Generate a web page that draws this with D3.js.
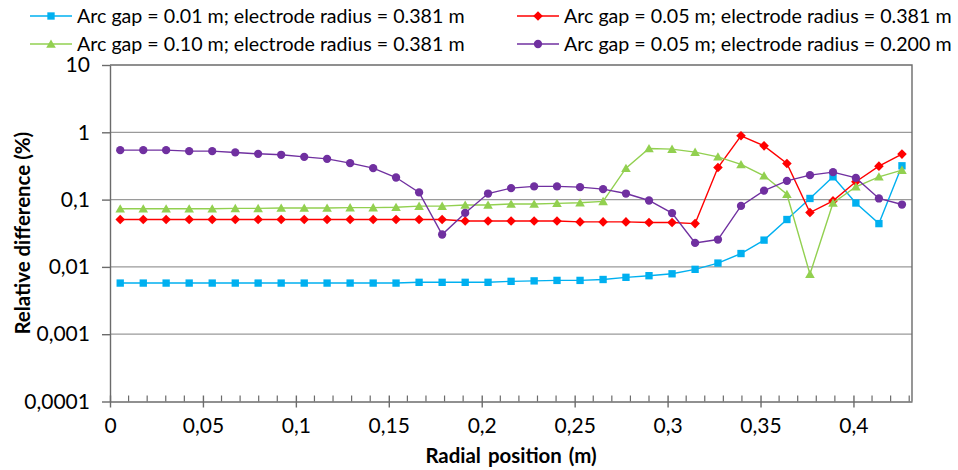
<!DOCTYPE html>
<html>
<head>
<meta charset="utf-8">
<script src="https://cdn.jsdelivr.net/npm/d3@7"></script>
<style>
  body { margin: 0; background: #ffffff; }
  svg { display: block; }
  text { font-family: Lato, "Liberation Sans", sans-serif; fill: #000; }
</style>
</head>
<body>
<svg id="chart" width="958" height="470"></svg>
<script>
// Radial positions of the sampled cells (m)
const radialPosition = [
  0.0055, 0.0179, 0.0302, 0.0426, 0.0550, 0.0674, 0.0797, 0.0921, 0.1045, 0.1168,
  0.1292, 0.1416, 0.1539, 0.1663, 0.1787, 0.1911, 0.2034, 0.2158, 0.2282, 0.2405,
  0.2529, 0.2653, 0.2776, 0.2900, 0.3024, 0.3148, 0.3271, 0.3395, 0.3519, 0.3642,
  0.3766, 0.3890, 0.4013, 0.4137, 0.4261
];

// Relative difference (%) for each configuration
const gap001Radius0381 = [
  0.00575, 0.00575, 0.00575, 0.00575, 0.00575, 0.00575, 0.00575, 0.00575, 0.00575, 0.00575,
  0.00575, 0.00575, 0.00575, 0.0059, 0.0059, 0.0059, 0.0059, 0.0061, 0.0062, 0.0063,
  0.0063, 0.0065, 0.0070, 0.0074, 0.0079, 0.0092, 0.0114, 0.0158, 0.0250, 0.0506,
  0.104, 0.218, 0.089, 0.044, 0.318
];
const gap005Radius0381 = [
  0.0505, 0.0505, 0.0505, 0.0505, 0.0505, 0.0505, 0.0505, 0.0505, 0.0505, 0.0505,
  0.0505, 0.0505, 0.0505, 0.0505, 0.0505, 0.0482, 0.0482, 0.0482, 0.0482, 0.0482,
  0.0466, 0.0466, 0.0466, 0.0456, 0.0456, 0.044, 0.300, 0.887, 0.629, 0.344,
  0.0643, 0.0957, 0.184, 0.314, 0.474
];
const gap010Radius0381 = [
  0.073, 0.073, 0.073, 0.073, 0.073, 0.074, 0.074, 0.075, 0.075, 0.075,
  0.076, 0.076, 0.077, 0.080, 0.080, 0.083, 0.083, 0.086, 0.086, 0.088,
  0.090, 0.094, 0.293, 0.575, 0.562, 0.507, 0.432, 0.333, 0.226, 0.120,
  0.0078, 0.089, 0.155, 0.218, 0.274
];
const gap005Radius0200 = [
  0.543, 0.543, 0.543, 0.525, 0.525, 0.502, 0.479, 0.463, 0.432, 0.403,
  0.348, 0.293, 0.213, 0.128, 0.0303, 0.0634, 0.123, 0.148, 0.157, 0.157,
  0.153, 0.143, 0.123, 0.097, 0.063, 0.0227, 0.0255, 0.0805, 0.136, 0.190,
  0.231, 0.256, 0.210, 0.104, 0.0845
];

const seriesNames = [
  "Arc gap = 0.01 m; electrode radius = 0.381 m",
  "Arc gap = 0.05 m; electrode radius = 0.381 m",
  "Arc gap = 0.10 m; electrode radius = 0.381 m",
  "Arc gap = 0.05 m; electrode radius = 0.200 m"
];

const yTickValues = [10, 1, 0.1, 0.01, 0.001, 0.0001];
const yTickLabels = ["10", "1", "0,1", "0,01", "0,001", "0,0001"];
const xTickValues = [0, 0.05, 0.1, 0.15, 0.2, 0.25, 0.3, 0.35, 0.4];
const xTickLabels = ["0", "0,05", "0,1", "0,15", "0,2", "0,25", "0,3", "0,35", "0,4"];
const xAxisTitle = "Radial position (m)";
const yAxisTitle = "Relative difference (%)";

const series = [
  { name: seriesNames[0], values: gap001Radius0381, color: "#00b0f0", marker: "square" },
  { name: seriesNames[1], values: gap005Radius0381, color: "#ff0000", marker: "diamond" },
  { name: seriesNames[2], values: gap010Radius0381, color: "#92d050", marker: "triangle" },
  { name: seriesNames[3], values: gap005Radius0200, color: "#7030a0", marker: "circle" }
];

const svg = d3.select("#chart");
const plot = { left: 110, right: 912, top: 65, bottom: 401.5 };

// Pick a font size so the legend labels span their natural width
const probe = svg.append("text").attr("font-size", 20).text(seriesNames[0]);
const probeLen = probe.node().getComputedTextLength();
probe.remove();
const fs = Math.max(16, Math.min(24, 20 * 388 / probeLen));
const tickFs = fs * 1.07;
const titleFs = fs * 1.04;

const x = d3.scaleLinear().domain([0, 0.4315]).range([plot.left, plot.right]);
const y = d3.scaleLog().domain([0.0001, 10]).range([plot.bottom, plot.top]);

// Horizontal gridlines at each decade
svg.append("g")
  .selectAll("line")
  .data(yTickValues.filter(v => v < 10 && v > 0.0001))
  .join("line")
  .attr("x1", plot.left).attr("x2", plot.right)
  .attr("y1", d => y(d)).attr("y2", d => y(d))
  .attr("stroke", "#9a9a9a").attr("stroke-width", 1.2);

// Plot area border (top and right)
svg.append("path")
  .attr("d", `M${plot.left},${plot.top}H${plot.right}V${plot.bottom}`)
  .attr("fill", "none").attr("stroke", "#6b6b6b").attr("stroke-width", 1.4);

// Y axis
const yAxis = svg.append("g")
  .attr("transform", `translate(${plot.left},0)`)
  .call(d3.axisLeft(y).tickValues(yTickValues)
    .tickFormat(d => yTickLabels[yTickValues.indexOf(d)])
    .tickSize(8).tickSizeOuter(0).tickPadding(12));
yAxis.attr("font-family", null).attr("font-size", null);
yAxis.selectAll("text").attr("font-size", tickFs).attr("fill", "#000");
yAxis.selectAll("line, path").attr("stroke", "#6b6b6b").attr("stroke-width", 1.4);

// X axis with crossing major ticks and inside minor ticks
const xAxis = svg.append("g")
  .attr("transform", `translate(0,${plot.bottom})`)
  .call(d3.axisBottom(x).tickValues(xTickValues)
    .tickFormat((d, i) => xTickLabels[i])
    .tickSize(6).tickSizeOuter(0).tickPadding(11));
xAxis.attr("font-family", null).attr("font-size", null);
xAxis.selectAll("text").attr("font-size", tickFs).attr("fill", "#000");
xAxis.selectAll(".tick line").attr("y1", -6);
xAxis.selectAll("line, path").attr("stroke", "#6b6b6b").attr("stroke-width", 1.4);

const minorTicks = d3.range(1, 44).map(k => k / 100).filter(v => Math.round(v * 100) % 5 !== 0);
xAxis.append("g").selectAll("line")
  .data(minorTicks)
  .join("line")
  .attr("x1", d => x(d)).attr("x2", d => x(d))
  .attr("y1", -6).attr("y2", 0)
  .attr("stroke", "#6b6b6b").attr("stroke-width", 1.2);

// Axis titles
svg.append("text")
  .attr("x", (plot.left + plot.right) / 2).attr("y", 463)
  .attr("text-anchor", "middle").attr("font-weight", "bold").attr("font-size", titleFs)
  .attr("word-spacing", "2px")
  .text(xAxisTitle);
svg.append("text")
  .attr("transform", `translate(30,${(plot.top + plot.bottom) / 2}) rotate(-90)`)
  .attr("text-anchor", "middle").attr("font-weight", "bold").attr("font-size", titleFs)
  .text(yAxisTitle);

// Marker shapes
function markerPath(kind) {
  if (kind === "square") return d3.symbol(d3.symbolSquare, 54)();
  if (kind === "diamond") return d3.symbol(d3.symbolSquare, 46)();
  if (kind === "triangle") return d3.symbol(d3.symbolTriangle, 40)();
  return d3.symbol(d3.symbolCircle, 54)();
}
function markerTransform(kind, px, py) {
  if (kind === "diamond") return `translate(${px},${py}) rotate(45)`;
  if (kind === "triangle") return `translate(${px},${py + 1})`;
  return `translate(${px},${py})`;
}

const line = d3.line()
  .x(d => x(d[0]))
  .y(d => y(d[1]));

series.forEach(s => {
  const pts = radialPosition.map((r, i) => [r, s.values[i]]);
  const g = svg.append("g");
  g.append("path")
    .datum(pts)
    .attr("d", line)
    .attr("fill", "none")
    .attr("stroke", s.color)
    .attr("stroke-width", 1.4);
  g.selectAll("path.mk")
    .data(pts)
    .join("path")
    .attr("class", "mk")
    .attr("d", markerPath(s.marker))
    .attr("transform", d => markerTransform(s.marker, x(d[0]), y(d[1])))
    .attr("fill", s.color);
});

// Legend: two rows, two columns
const legendPos = [
  { lx: 30, ly: 16 }, { lx: 517, ly: 16 },
  { lx: 30, ly: 44 }, { lx: 517, ly: 44 }
];
series.forEach((s, i) => {
  const p = legendPos[i];
  const g = svg.append("g");
  g.append("line")
    .attr("x1", p.lx).attr("x2", p.lx + 42)
    .attr("y1", p.ly).attr("y2", p.ly)
    .attr("stroke", s.color).attr("stroke-width", 1.4);
  g.append("path")
    .attr("d", markerPath(s.marker))
    .attr("transform", markerTransform(s.marker, p.lx + 21, p.ly))
    .attr("fill", s.color);
  g.append("text")
    .attr("x", p.lx + 47).attr("y", p.ly)
    .attr("dy", "0.36em")
    .attr("font-size", fs)
    .text(s.name);
});
</script>
</body>
</html>
